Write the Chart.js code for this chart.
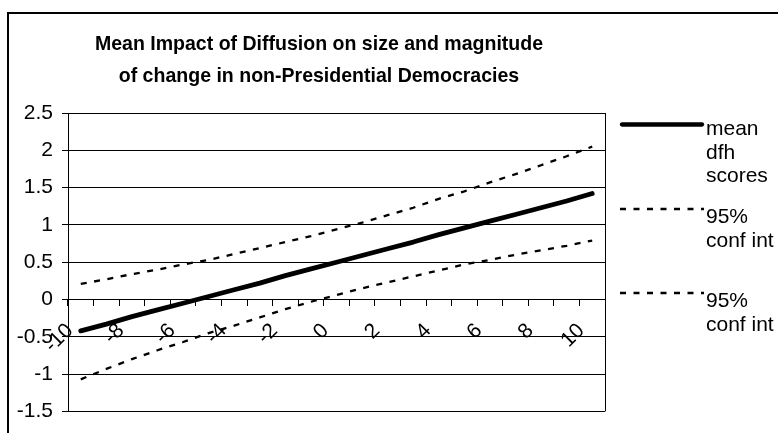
<!DOCTYPE html>
<html>
<head>
<meta charset="utf-8">
<style>
  html, body { margin: 0; padding: 0; background: #fff; }
  #wrap { width: 778px; height: 433px; }
</style>
<script src="https://cdn.jsdelivr.net/npm/chart.js@4/dist/chart.umd.min.js"></script>
</head>
<body>
<div id="wrap"><canvas id="c" width="778" height="433"></canvas></div>
<script>
// Diffusion score on the x axis
const categories = [-10, -9, -8, -7, -6, -5, -4, -3, -2, -1, 0, 1, 2, 3, 4, 5, 6, 7, 8, 9, 10];
// Mean dfh score per diffusion value
const meanScores = [-0.42, -0.33, -0.23, -0.14, -0.05, 0.04, 0.13, 0.22, 0.32, 0.41, 0.50,
                    0.59, 0.68, 0.77, 0.87, 0.96, 1.05, 1.14, 1.23, 1.32, 1.42];
// Upper and lower bounds of the 95% confidence interval
const upperCI = [0.21, 0.27, 0.34, 0.40, 0.47, 0.53, 0.61, 0.69, 0.77, 0.85, 0.94,
                 1.03, 1.13, 1.23, 1.35, 1.45, 1.57, 1.68, 1.80, 1.92, 2.05];
const lowerCI = [-1.07, -0.93, -0.80, -0.68, -0.57, -0.45, -0.35, -0.24, -0.13, -0.03, 0.06,
                 0.15, 0.23, 0.31, 0.39, 0.47, 0.53, 0.60, 0.66, 0.72, 0.79];
const yTicks = [-1.5, -1, -0.5, 0, 0.5, 1, 1.5, 2, 2.5];
const titleLines = ['Mean Impact of Diffusion on size and magnitude',
                    'of change in non-Presidential Democracies'];
const seriesNames = [['mean', 'dfh', 'scores'], ['95%', 'conf int'], ['95%', 'conf int']];

const FONT = '"Liberation Sans", Arial, sans-serif';

// Outer frame, two-line title, plot-area right edge and the wrapped legend
const decorations = {
  id: 'decorations',
  beforeDraw(chart) {
    const ctx = chart.ctx;
    ctx.save();
    ctx.strokeStyle = '#000';
    ctx.lineWidth = 2;
    ctx.beginPath();
    ctx.moveTo(8, chart.height + 5);
    ctx.lineTo(8, 13);
    ctx.lineTo(chart.width + 5, 13);
    ctx.stroke();

    // slightly condensed bold title
    ctx.fillStyle = '#000';
    ctx.font = 'bold 21px ' + FONT;
    ctx.textAlign = 'center';
    ctx.textBaseline = 'alphabetic';
    ctx.translate(319, 0);
    ctx.scale(0.93, 1);
    titleLines.forEach((t, k) => ctx.fillText(t, 0, 49.5 + k * 32));
    ctx.restore();
  },
  afterDraw(chart) {
    const ctx = chart.ctx;
    const a = chart.chartArea;
    ctx.save();
    ctx.strokeStyle = '#000';
    ctx.lineWidth = 1;
    ctx.beginPath();
    ctx.moveTo(Math.round(a.right) + 0.5, a.top);
    ctx.lineTo(Math.round(a.right) + 0.5, a.bottom);
    ctx.stroke();

    const sampleY = [124.5, 209, 293];
    const textY = [135, 223, 307];
    chart.data.datasets.forEach((ds, i) => {
      ctx.save();
      ctx.strokeStyle = ds.borderColor;
      ctx.lineWidth = ds.legendWidth || ds.borderWidth;
      ctx.lineCap = ds.borderCapStyle || 'butt';
      ctx.setLineDash(ds.borderDash || []);
      ctx.beginPath();
      const inset = ctx.lineCap === 'round' ? 2 : 0;
      ctx.moveTo(620 + inset, sampleY[i]);
      ctx.lineTo(704 - inset, sampleY[i]);
      ctx.stroke();
      ctx.restore();
      ctx.fillStyle = '#000';
      ctx.font = '21px ' + FONT;
      ctx.textBaseline = 'alphabetic';
      ctx.textAlign = 'left';
      seriesNames[i].forEach((t, k) => ctx.fillText(t, 706, textY[i] + k * 23.5));
    });
    ctx.restore();
  }
};

new Chart(document.getElementById('c'), {
  type: 'line',
  data: {
    labels: categories,
    datasets: [
      { label: seriesNames[0].join(' '), data: meanScores, borderColor: '#000', borderWidth: 4.8,
        legendWidth: 4.3, borderCapStyle: 'round', borderJoinStyle: 'round', pointRadius: 0, tension: 0 },
      { label: seriesNames[1].join(' '), data: upperCI, borderColor: '#000', borderWidth: 2.3,
        borderDash: [6, 7.5], pointRadius: 0, tension: 0 },
      { label: seriesNames[2].join(' '), data: lowerCI, borderColor: '#000', borderWidth: 2.3,
        borderDash: [6, 7.5], pointRadius: 0, tension: 0 }
    ]
  },
  options: {
    responsive: false,
    devicePixelRatio: 1,
    animation: false,
    events: [],
    layout: { padding: { left: 0, right: 173, top: 113, bottom: 0 } },
    plugins: {
      legend: { display: false },
      tooltip: { enabled: false },
      title: { display: false }
    },
    scales: {
      x: {
        type: 'category',
        position: { y: 0 },
        offset: true,
        afterFit(scale) { scale.height = 31; },
        grid: { drawOnChartArea: false, drawTicks: true, tickLength: 6, offset: true, color: '#000', lineWidth: 1 },
        border: { display: true, color: '#000', width: 1 },
        ticks: {
          autoSkip: false,
          maxRotation: 45,
          minRotation: 45,
          padding: 13,
          labelOffset: -11,
          color: '#000',
          font: { family: FONT, size: 21 },
          callback(value, index) {
            const c = categories[index];
            return c % 2 === 0 ? String(c) : '';
          }
        }
      },
      y: {
        min: -1.5,
        max: 2.5,
        afterFit(scale) { scale.width = 68; },
        afterBuildTicks(scale) { scale.ticks = yTicks.map(v => ({ value: v })); },
        grid: { color: '#000', lineWidth: 1, drawTicks: true, tickLength: 6 },
        border: { display: true, color: '#000', width: 1 },
        ticks: {
          padding: 9,
          color: '#000',
          font: { family: FONT, size: 21 },
          callback(value) { return String(value); }
        }
      }
    }
  },
  plugins: [decorations]
});
</script>
</body>
</html>
